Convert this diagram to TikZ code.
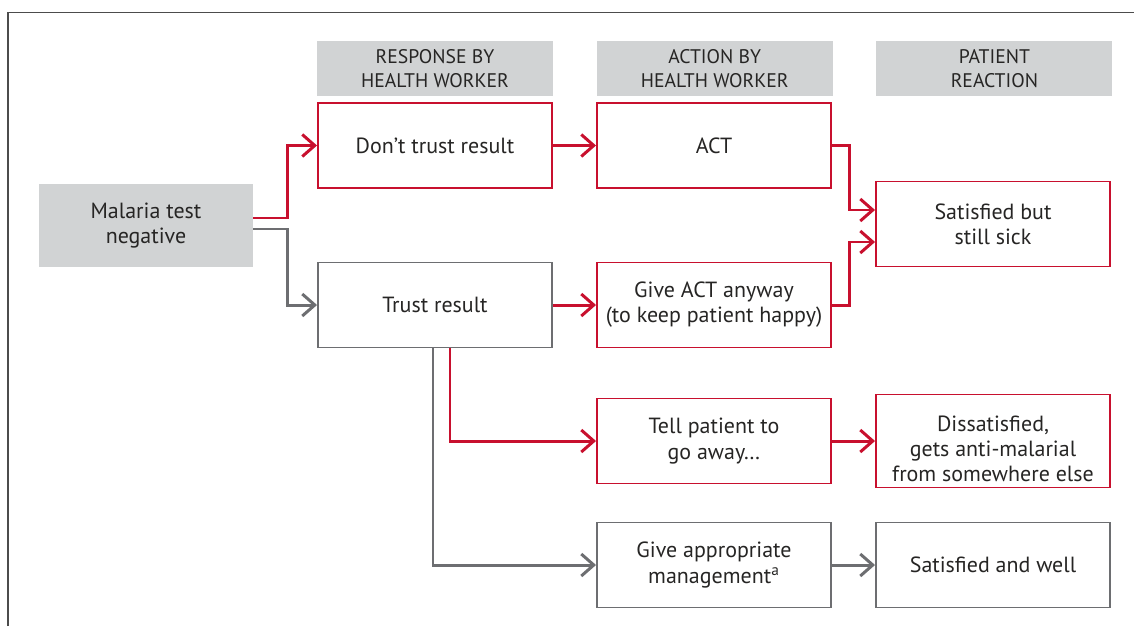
\documentclass[tikz,border=0pt]{standalone}
\usepackage{fontspec}
\setmainfont{PT Sans}
\usetikzlibrary{arrows.meta,positioning,calc}
\definecolor{flowred}{HTML}{C8102E}
\definecolor{flowgrey}{HTML}{6D6E71}
\definecolor{hdrgrey}{HTML}{D1D3D4}
\definecolor{txtgrey}{HTML}{262524}
\tikzset{
    box/.style={minimum width=4.68cm, minimum height=1.70cm, inner sep=2pt, align=center, text=txtgrey, font=\fontsize{12.5}{14.3}\selectfont},
    header/.style={box, fill=hdrgrey, minimum width=4.72cm, minimum height=1.1cm, font=\fontsize{11.2}{13.6}\selectfont},
    redbox/.style={box, draw=flowred, line width=1.1pt},
    greybox/.style={box, draw=flowgrey, line width=1.1pt},
    redflow/.style={-{Straight Barb[length=2.5mm, width=4.4mm]}, line width=1.7pt, flowred},
    greyflow/.style={-{Straight Barb[length=2.5mm, width=4.4mm]}, line width=1.7pt, flowgrey}
}
\begin{document}
\begin{tikzpicture}
    \useasboundingbox (0,0) rectangle (22.68,-12.52);
    % frame
    \draw[line width=0.8pt, black!70] (0.16,-12.52) -- (0.16,-0.25) -- (22.68,-0.25);

    % column headers
    \node[header] (hdra) at (8.70,-1.37) {RESPONSE BY\\HEALTH WORKER};
    \node[header, right=0.86cm of hdra] (hdrb) {ACTION BY\\HEALTH WORKER};
    \node[header, right=0.86cm of hdrb] (hdrc) {PATIENT\\REACTION};

    % start
    \node[box, fill=hdrgrey, minimum width=4.28cm, minimum height=1.66cm] (malaria) at (2.92,-4.51) {Malaria test\\negative};

    % response by health worker
    \node[redbox] (dont) at (8.70,-2.91) {Don’t trust result};
    \node[greybox] (trust) at (8.70,-6.10) {Trust result};

    % action by health worker
    \node[redbox] (act) at (14.28,-2.91) {ACT};
    \node[redbox] (giveact) at (14.28,-6.10) {Give ACT anyway\\(to keep patient happy)};
    \node[redbox] (tell) at (14.28,-8.82) {Tell patient to\\go away\dots};
    \node[greybox] (mgmt) at (14.28,-11.30) {Give appropriate\\management\textsuperscript{a}};

    % patient reaction
    \node[redbox] (sick) at (19.86,-4.48) {Satisfied but\\still sick};
    \node[redbox, minimum height=1.86cm] (dissat) at (19.86,-8.82) {\rule{0pt}{0.62cm}Dissatisfied,\\gets anti-malarial\\from somewhere else};
    \node[greybox] (well) at (19.86,-11.30) {Satisfied and well};

    % connectors
    \draw[redflow] ([yshift=0.15cm]malaria.east) -- ++(0.68,0) |- (dont.west);
    \draw[greyflow] ([yshift=-0.07cm]malaria.east) -- ++(0.68,0) |- (trust.west);
    \draw[redflow] (dont) -- (act);
    \draw[redflow] (trust) -- (giveact);
    \draw[redflow] (act.east) -- ++(0.36,0) |- ([yshift=0.28cm]sick.west);
    \draw[redflow] (giveact.east) -- ++(0.36,0) |- ([yshift=-0.36cm]sick.west);
    \draw[redflow] ([xshift=0.3cm]trust.south) |- (tell.west);
    \draw[greyflow] ([xshift=-0.04cm]trust.south) |- (mgmt.west);
    \draw[redflow] (tell.east) -- (tell.east -| dissat.west);
    \draw[greyflow] (mgmt) -- (well);
\end{tikzpicture}
\end{document}
